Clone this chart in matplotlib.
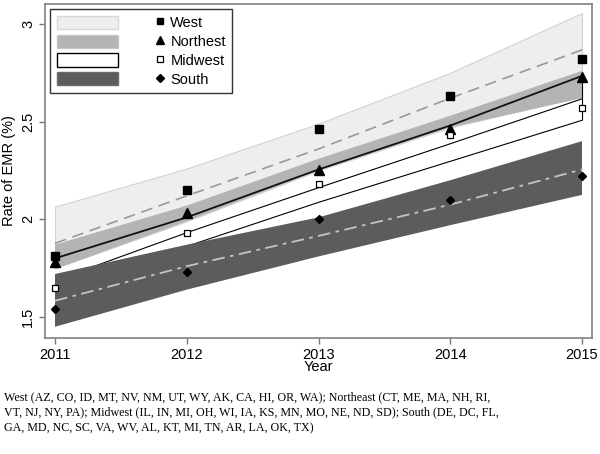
import matplotlib
matplotlib.use("Agg")
import matplotlib.pyplot as plt
from matplotlib.lines import Line2D
from matplotlib.patches import Patch
from matplotlib.legend_handler import HandlerBase

years = [2011, 2012, 2013, 2014, 2015]

west_obs = [1.81, 2.15, 2.46, 2.63, 2.82]
ne_obs = [1.78, 2.03, 2.25, 2.46, 2.73]
mw_obs = [1.65, 1.93, 2.18, 2.43, 2.57]
south_obs = [1.54, 1.73, 2.00, 2.10, 2.22]

west_fit = [1.877, 2.12, 2.36, 2.62, 2.867]
west_lo = [1.75, 1.99, 2.25, 2.47, 2.63]
west_hi = [2.065, 2.26, 2.49, 2.75, 3.056]

ne_fit = [1.80, 2.01, 2.255, 2.48, 2.734]
ne_lo = [1.745, 1.99, 2.25, 2.47, 2.62]
ne_hi = [1.87, 2.07, 2.31, 2.53, 2.76]

mw_lo = [1.64, 1.865, 2.09, 2.30, 2.51]
mw_hi = [1.69, 1.935, 2.165, 2.39, 2.62]

south_fit = [1.583, 1.76, 1.915, 2.075, 2.255]
south_lo = [1.45, 1.64, 1.81, 1.97, 2.125]
south_hi = [1.72, 1.87, 2.01, 2.20, 2.40]

region_labels = ["West", "Northest", "Midwest", "South"]
ytick_vals = [1.5, 2, 2.5, 3]
ytick_labels = ["1.5", "2", "2.5", "3"]

caption = ("West (AZ, CO, ID, MT, NV, NM, UT, WY, AK, CA, HI, OR, WA); Northeast (CT, ME, MA, NH, RI,\n"
           "VT, NJ, NY, PA); Midwest (IL, IN, MI, OH, WI, IA, KS, MN, MO, NE, ND, SD); South (DE, DC, FL,\n"
           "GA, MD, NC, SC, VA, WV, AL, KT, MI, TN, AR, LA, OK, TX)")

plt.rcParams['font.family'] = ['Liberation Sans', 'DejaVu Sans']

fig = plt.figure(figsize=(6.0, 4.54), dpi=100)
ax = fig.add_axes([0.075, 0.2555, 0.9117, 0.7357])

c_west = '#eeeeee'
c_ne = '#b4b4b4'
c_south = '#5c5c5c'

ax.fill_between(years, west_lo, west_hi, facecolor=c_west, edgecolor='#d2d2d2', lw=0.8, zorder=1)
ax.fill_between(years, ne_lo, ne_hi, facecolor=c_ne, edgecolor='none', zorder=2)
ax.fill_between(years, mw_lo, mw_hi, facecolor='white', edgecolor='black', lw=0.8, zorder=3)
ax.vlines(years[-1], mw_hi[-1], ne_fit[-1], color='black', lw=0.8, zorder=3)
ax.fill_between(years, south_lo, south_hi, facecolor=c_south, edgecolor='none', zorder=4)

ax.plot(years, west_fit, color='#999999', lw=1.2, dashes=(7, 4), zorder=5)
ax.plot(years, ne_fit, color='#111111', lw=1.3, zorder=5)
ax.plot(years, south_fit, color='#c4c4c4', lw=1.3, dashes=(7, 3, 2, 3), zorder=5)

ax.plot(years, west_obs, ls='none', marker='s', ms=5.5, color='black', zorder=6)
ax.plot(years, ne_obs, ls='none', marker='^', ms=6.5, color='black', zorder=6)
ax.plot(years, mw_obs, ls='none', marker='s', ms=5, mfc='white', mec='black', mew=0.9, zorder=6)
ax.plot(years, south_obs, ls='none', marker='D', ms=4.5, color='black', zorder=6)

ax.set_xlim(2010.924, 2015.076)
ax.set_ylim(1.3925, 3.102)
ax.set_xticks(years)
ax.set_xticklabels([str(y) for y in years], fontsize=10.5)
ax.set_yticks(ytick_vals)
ax.set_yticklabels(ytick_labels, fontsize=10.5, rotation=90, va='center')
ax.tick_params(direction='out', length=4, width=1, color='#777777', pad=3)
for s in ax.spines.values():
    s.set_color('#808080')
    s.set_linewidth(1.2)
ax.set_xlabel("Year", fontsize=10.5, labelpad=-1)
ax.set_ylabel("Rate of EMR (%)", fontsize=10.5, labelpad=4)


class MarkerRight(HandlerBase):
    def create_artists(self, legend, orig_handle, xdescent, ydescent,
                       width, height, fontsize, trans):
        x = -xdescent + width - 0.4 * fontsize
        y = (height - ydescent) / 2
        line = Line2D([x], [y])
        self.update_prop(line, orig_handle, legend)
        line.set_transform(trans)
        return [line]


patch_handles = [
    Patch(facecolor=c_west, edgecolor='#d8d8d8', lw=1),
    Patch(facecolor=c_ne, edgecolor='#c8c8c8', lw=1),
    Patch(facecolor='white', edgecolor='black', lw=1),
    Patch(facecolor=c_south, edgecolor='#6a6a6a', lw=1),
]
marker_handles = [
    Line2D([], [], ls='none', marker='s', ms=5, color='black'),
    Line2D([], [], ls='none', marker='^', ms=5.5, color='black'),
    Line2D([], [], ls='none', marker='s', ms=4.5, mfc='white', mec='black', mew=0.9),
    Line2D([], [], ls='none', marker='D', ms=4, color='black'),
]
hmap = {h: MarkerRight() for h in marker_handles}
leg = ax.legend(patch_handles + marker_handles, [''] * 4 + region_labels,
                ncol=2, loc='upper left', handler_map=hmap,
                handlelength=4.2, handleheight=1.0, handletextpad=0.3,
                columnspacing=-1.2, labelspacing=0.3, borderpad=0.45,
                borderaxespad=0.35, fontsize=10.5, fancybox=False,
                framealpha=1, edgecolor='#333333')
leg.get_frame().set_linewidth(1.0)
leg.set_zorder(10)

fig.text(0.006, 0.139, caption, family='Liberation Serif', fontsize=8.65,
         va='top', ha='left', linespacing=1.4)

fig.savefig("out.png", dpi=100)
